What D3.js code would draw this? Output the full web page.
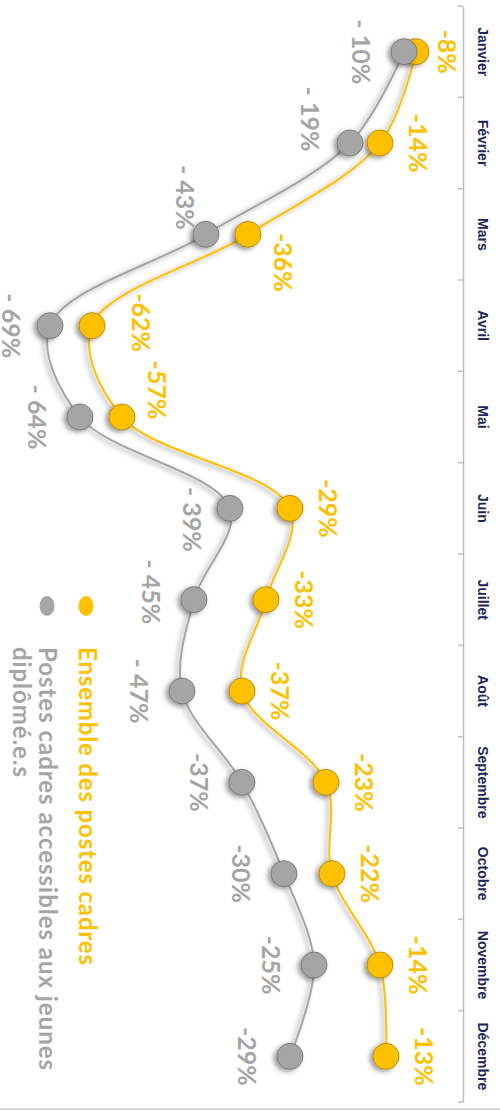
<!DOCTYPE html>
<html>
<head>
<meta charset="utf-8">
<script src="https://cdn.jsdelivr.net/npm/d3@7"></script>
<style>
  html, body { margin: 0; padding: 0; background: #fff; }
  svg { display: block; font-family: "Lato", "Open Sans", sans-serif; }
</style>
</head>
<body>
<svg id="chart" width="500" height="1113"></svg>
<script>
// Monthly change in executive job postings (%)
const months = ["Janvier", "Février", "Mars", "Avril", "Mai", "Juin",
                "Juillet", "Août", "Septembre", "Octobre", "Novembre", "Décembre"];
const ensemble = [-8, -14, -36, -62, -57, -29, -33, -37, -23, -22, -14, -13];
const jeunes   = [-10, -19, -43, -69, -64, -39, -45, -47, -37, -30, -25, -29];
const ensembleLabels = ["-8%", "-14%", "-36%", "-62%", "-57%", "-29%",
                        "-33%", "-37%", "-23%", "-22%", "-14%", "-13%"];
const jeunesLabels   = ["- 10%", "- 19%", "- 43%", "- 69%", "- 64%", "- 39%",
                        "- 45%", "- 47%", "-37%", "-30%", "-25%", "-29%"];
const seriesNames = ["Ensemble des postes cadres",
                     ["Postes cadres accessibles aux jeunes", "diplômé.e.s"]];

const COL_ENS = "#FFC000";
const COL_JEU = "#A5A5A5";
const COL_MONTH = "#22245a";

// hand-tuned label shifts [along value axis, along month axis]
const nudgeEns = { "Janvier": [-7, 0], "Mars": [-3, 28], "Avril": [11, -3], "Mai": [-3, -27] };
const nudgeJeu = { "Février": [3, -24], "Mars": [22, -37], "Juin": [5, 11], "Juillet": [0, -8], "Avril": [4, 0] };

const svg = d3.select("#chart");

// the chart is laid out sideways: months run down the page, values run leftwards from the axis
const y = d3.scaleBand().domain(months).range([6, 1102]).padding(0);
const x = d3.scaleLinear().domain([-70, 0]).range([44, 464]);
const cy = m => y(m) + y.bandwidth() / 2;

const defs = svg.append("defs");
const shadow = defs.append("filter").attr("id", "shadow")
  .attr("x", "-50%").attr("y", "-50%").attr("width", "200%").attr("height", "200%");
shadow.append("feDropShadow")
  .attr("dx", -3).attr("dy", 2).attr("stdDeviation", 2.5)
  .attr("flood-color", "#000").attr("flood-opacity", 0.4);

// bottom frame edge
svg.append("line")
  .attr("x1", 0).attr("x2", 500).attr("y1", 1109).attr("y2", 1109)
  .attr("stroke", "#d9d9d9").attr("stroke-width", 2);

// category axis
const axisX = 463;
const axis = svg.append("g")
  .attr("transform", `translate(${axisX},0)`)
  .call(d3.axisRight(y).tickSize(0).tickPadding(0));
axis.select(".domain").attr("stroke", "#bfbfbf").attr("stroke-width", 1.5);
axis.selectAll(".tick text")
  .attr("x", 0).attr("y", 0).attr("dy", null)
  .attr("text-anchor", "middle")
  .attr("dominant-baseline", "central")
  .attr("transform", "translate(20,0) rotate(90)")
  .attr("fill", COL_MONTH)
  .attr("font-size", 14)
  .attr("font-weight", 700);
// tick marks between categories
const bounds = months.map(m => y(m)).concat([y.range()[1]]);
axis.selectAll(".bound").data(bounds).join("line")
  .attr("class", "bound")
  .attr("x1", -5).attr("x2", 0)
  .attr("y1", d => d).attr("y2", d => d)
  .attr("stroke", "#bfbfbf").attr("stroke-width", 1.5);

const line = d3.line()
  .x(d => x(d.v))
  .y(d => cy(d.m))
  .curve(d3.curveCatmullRom.alpha(0.5));

function drawSeries(values, labels, color, stroke, offset, nudge, labelColor) {
  const pts = months.map((m, i) => ({ m, v: values[i], label: labels[i] }));
  const g = svg.append("g");
  g.append("path").datum(pts)
    .attr("d", line)
    .attr("fill", "none")
    .attr("stroke", color)
    .attr("stroke-width", 2)
    .attr("filter", "url(#shadow)");
  g.selectAll("circle").data(pts).join("circle")
    .attr("cx", d => x(d.v))
    .attr("cy", d => cy(d.m))
    .attr("r", 13)
    .attr("fill", color)
    .attr("stroke", stroke)
    .attr("stroke-width", 0.8)
    .attr("filter", "url(#shadow)");
  g.selectAll("text").data(pts).join("text")
    .attr("transform", d => {
      const n = nudge[d.m] || [0, 0];
      return `translate(${x(d.v) + offset + n[0]},${cy(d.m) + n[1]}) rotate(90)`;
    })
    .attr("text-anchor", "middle")
    .attr("dominant-baseline", "central")
    .attr("fill", labelColor)
    .attr("font-size", 25)
    .attr("font-weight", 700)
    .text(d => d.label);
}

drawSeries(ensemble, ensembleLabels, COL_ENS, "#a88100", 39, nudgeEns, COL_ENS);
drawSeries(jeunes, jeunesLabels, COL_JEU, "#6f6f6f", -42, nudgeJeu, COL_JEU);

// legend
const legend = svg.append("g");
legend.append("ellipse").attr("cx", 86).attr("cy", 606).attr("rx", 7.5).attr("ry", 10).attr("fill", COL_ENS);
legend.append("ellipse").attr("cx", 47).attr("cy", 606).attr("rx", 7.5).attr("ry", 10).attr("fill", COL_JEU);
legend.append("text")
  .attr("transform", "translate(88,647) rotate(90)")
  .attr("dominant-baseline", "central")
  .attr("fill", COL_ENS).attr("font-size", 24).attr("font-weight", 700)
  .attr("textLength", 318).attr("lengthAdjust", "spacing")
  .text(seriesNames[0]);
const grayLens = [423, 130];
seriesNames[1].forEach((t, i) => {
  legend.append("text")
    .attr("transform", `translate(${48 - i * 26},647) rotate(90)`)
    .attr("dominant-baseline", "central")
    .attr("fill", COL_JEU).attr("font-size", 24).attr("font-weight", 700)
    .attr("textLength", grayLens[i]).attr("lengthAdjust", "spacing")
    .text(t);
});
</script>
</body>
</html>
